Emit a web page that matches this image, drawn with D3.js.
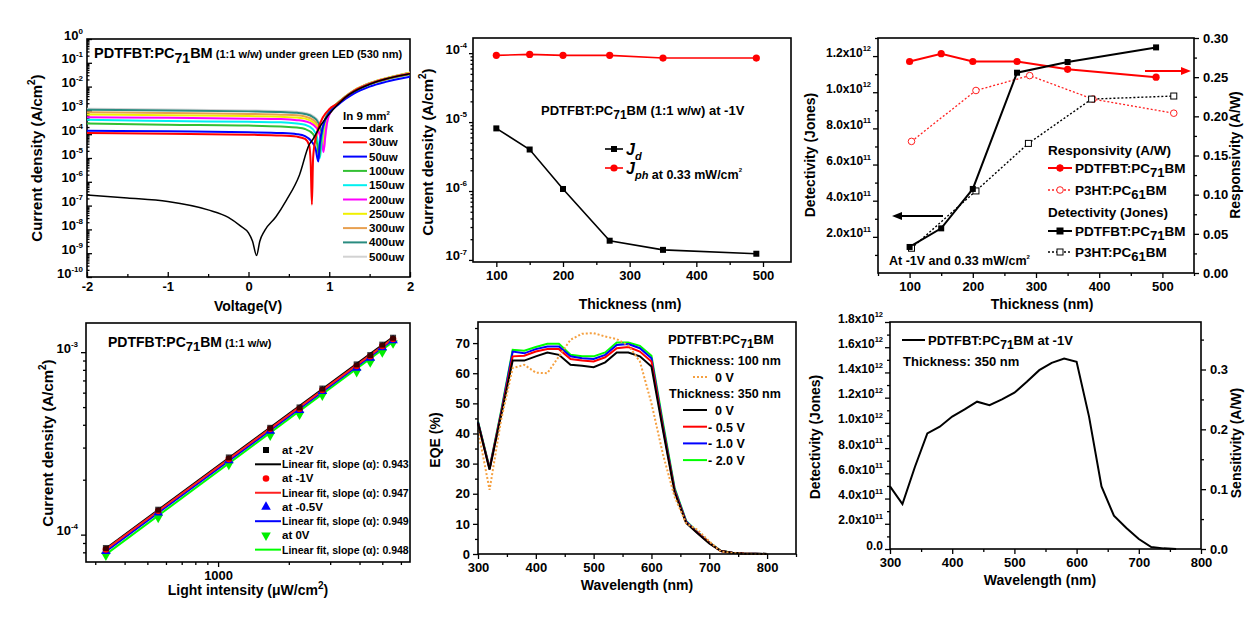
<!DOCTYPE html>
<html><head><meta charset="utf-8">
<script src="https://cdn.jsdelivr.net/npm/d3@7"></script>
<style>
body{margin:0;background:#fff}
svg{display:block;background:#fff}
text{font-family:"Liberation Sans",Arial,sans-serif;font-weight:bold;fill:#000}
</style>
</head><body>
<svg id="c" width="1260" height="618"></svg>
<script>
// ================= DATA =================
// (a) J-V curves, [voltage (V), current density (A/cm2)]
const jvLabels = ["dark","30uw","50uw","100uw","150uw","200uw","250uw","300uw","400uw","500uw"];
const jvDark = [[-2,2.8e-7],[-1.5,2.1e-7],[-1,1.48e-7],[-0.5,6.6e-8],[-0.25,3.2e-8],[-0.1,1.4e-8],[0,7.1e-9],[0.05,3.2e-9],[0.1,8e-10],[0.14,3.2e-9],[0.2,8.9e-9],[0.34,3.4e-8],[0.47,1.7e-7],[0.63,1.9e-6],[0.75,3.55e-5],[0.8,6.3e-5],[0.9,2.5e-4],[1.0,7.1e-4],[1.2,3.55e-3],[1.5,1.26e-2],[2.0,3.5e-2]];
const jv30 = [[-2,1.12e-4],[-1,1.05e-4],[0,9.5e-5],[0.4,8.9e-5],[0.6,7.9e-5],[0.7,6.3e-5],[0.75,3.55e-5],[0.77,6.3e-6],[0.785,1.1e-7],[0.8,1.0e-5],[0.83,6.3e-5],[0.87,2.0e-4],[0.92,5.0e-4],[1.0,1.12e-3],[1.1,1.9e-3],[1.2,3.6e-3],[1.3,6.3e-3],[1.5,1.3e-2],[1.7,2.1e-2],[2.0,3.5e-2]];
const jv50 = [[-2,1.41e-4],[-1,1.32e-4],[0,1.2e-4],[0.4,1.12e-4],[0.6,1.0e-4],[0.7,8.3e-5],[0.78,5.0e-5],[0.83,2.5e-5],[0.865,7.1e-6],[0.88,3.2e-5],[0.92,2.0e-4],[1.0,7.9e-4],[1.1,1.6e-3],[1.2,3.0e-3],[1.3,5.0e-3],[1.5,1.0e-2],[1.7,1.58e-2],[2.0,2.6e-2]];
const jv100 = [[-2,2.8e-4],[-1,2.5e-4],[0,2.3e-4],[0.4,2.1e-4],[0.6,1.9e-4],[0.7,1.66e-4],[0.8,1.0e-4],[0.85,4.0e-5],[0.875,1.0e-5],[0.895,5.0e-5],[0.93,2.5e-4],[1.0,8.9e-4],[1.1,1.9e-3],[1.2,3.55e-3],[1.3,6.0e-3],[1.5,1.26e-2],[1.7,2.0e-2],[2.0,3.3e-2]];
const jv150 = [[-2,4.0e-4],[-1,3.6e-4],[0,3.3e-4],[0.4,3.16e-4],[0.6,2.8e-4],[0.7,2.5e-4],[0.8,1.58e-4],[0.85,7.1e-5],[0.885,1.0e-5],[0.905,5.0e-5],[0.94,3.16e-4],[1.0,8.9e-4],[1.1,1.9e-3],[1.2,3.6e-3],[1.3,6.1e-3],[1.5,1.28e-2],[1.7,2.05e-2],[2.0,3.4e-2]];
const jv200 = [[-2,5.2e-4],[-1,4.9e-4],[0,4.5e-4],[0.4,4.3e-4],[0.6,3.9e-4],[0.7,3.5e-4],[0.8,2.5e-4],[0.87,1.26e-4],[0.91,4.0e-5],[0.93,1.8e-5],[0.95,7.9e-5],[0.98,4.0e-4],[1.03,1.0e-3],[1.1,1.8e-3],[1.2,3.6e-3],[1.3,6.3e-3],[1.5,1.32e-2],[1.7,2.1e-2],[2.0,3.6e-2]];
const jv250 = [[-2,6.8e-4],[-1,6.3e-4],[0,5.75e-4],[0.4,5.4e-4],[0.6,5.0e-4],[0.7,4.5e-4],[0.8,3.16e-4],[0.86,1.78e-4],[0.9,6.3e-5],[0.92,2.5e-5],[0.94,1.0e-4],[0.97,4.0e-4],[1.02,1.0e-3],[1.1,2.0e-3],[1.2,3.8e-3],[1.3,6.6e-3],[1.5,1.38e-2],[1.7,2.2e-2],[2.0,3.8e-2]];
const jv300 = [[-2,8.3e-4],[-1,7.8e-4],[0,7.1e-4],[0.4,6.6e-4],[0.6,6.2e-4],[0.7,5.5e-4],[0.8,4.0e-4],[0.85,2.5e-4],[0.885,1.0e-4],[0.905,3.2e-5],[0.925,1.0e-4],[0.95,4.0e-4],[1.0,1.0e-3],[1.1,2.0e-3],[1.2,3.8e-3],[1.3,6.6e-3],[1.5,1.38e-2],[1.7,2.2e-2],[2.0,3.8e-2]];
const jv400 = [[-2,1.07e-3],[-1,1.0e-3],[0,9.1e-4],[0.4,8.5e-4],[0.6,7.9e-4],[0.7,7.1e-4],[0.8,5.2e-4],[0.86,3.16e-4],[0.9,1.26e-4],[0.92,3.2e-5],[0.94,1.0e-4],[0.97,4.0e-4],[1.02,1.0e-3],[1.1,2.0e-3],[1.2,3.8e-3],[1.3,6.6e-3],[1.5,1.38e-2],[1.7,2.2e-2],[2.0,3.8e-2]];
const jv500 = [[-2,1.17e-3],[-1,1.1e-3],[0,1.0e-3],[0.4,9.3e-4],[0.6,8.7e-4],[0.7,7.8e-4],[0.8,5.75e-4],[0.87,3.16e-4],[0.91,1.26e-4],[0.935,2.5e-5],[0.955,1.0e-4],[0.98,4.0e-4],[1.03,1.0e-3],[1.1,2.0e-3],[1.2,3.8e-3],[1.3,6.6e-3],[1.5,1.38e-2],[1.7,2.2e-2],[2.0,3.9e-2]];
const jvTicksX = [-2,-1,0,1,2];

// (b) current density vs thickness
const thickB = [100,150,200,270,350,490];
const jDark = [8.1e-6,4.0e-6,1.07e-6,1.9e-7,1.4e-7,1.23e-7];
const jPhoto = [9.3e-5,9.6e-5,9.3e-5,9.3e-5,8.5e-5,8.5e-5];

// (c) detectivity / responsivity vs thickness
const thickPDT = [100,150,200,270,350,490];
const respPDT = [0.270,0.280,0.270,0.270,0.260,0.250];
const detPDT = [1.44e11,2.47e11,4.65e11,1.108e12,1.167e12,1.248e12];
const thickP3HTresp = [103,205,290,390,518];
const respP3HT = [0.168,0.233,0.252,0.222,0.204];
const thickP3HTdet = [103,205,288,388,518];
const detP3HT = [1.37e11,4.54e11,7.17e11,9.62e11,9.79e11];

// (d) J vs light intensity
const intensity = [333,556,1111,1667,2222,2778,3889,4444,5000,5556];
const jm2V = [8.45e-5,1.37e-4,2.65e-4,3.85e-4,4.98e-4,6.32e-4,8.57e-4,9.64e-4,1.10e-3,1.20e-3];
const jm1V = [8.3e-5,1.35e-4,2.6e-4,3.8e-4,4.9e-4,6.2e-4,8.4e-4,9.5e-4,1.08e-3,1.18e-3];
const jm05V = [8.1e-5,1.32e-4,2.55e-4,3.7e-4,4.8e-4,6.1e-4,8.2e-4,9.3e-4,1.06e-3,1.16e-3];
const j0V = [7.7e-5,1.24e-4,2.42e-4,3.5e-4,4.55e-4,5.8e-4,7.8e-4,8.8e-4,1.0e-3,1.12e-3];
const fitX = [333,5556];
const fitm2V = [8.4e-5,1.21e-3];
const fitm1V = [8.3e-5,1.19e-3];
const fitm05V = [8.1e-5,1.17e-3];
const fit0V = [7.8e-5,1.14e-3];
const fitSlopes = ["0.943","0.947","0.949","0.948"];

// (e) EQE spectra
const wlE = [300,320,340,360,380,400,420,440,460,480,500,520,540,560,580,600,620,640,660,680,700,720,740,760,780,800];
const eqe100_0V = [41.2,21.3,44.5,61.7,62.8,60.2,60.0,65.6,71.1,73.1,73.3,72.2,71.3,69.2,63.9,50,33,19,10.2,8.0,4.2,0.8,0.3,0.1,0,0];
const eqe350_0V = [43.5,28,46,64.2,64.2,65.6,66.9,66.1,62.8,62.5,62.0,63.6,66.9,66.9,65.6,62.2,41,20.5,10.3,6.8,3.5,1.0,0.4,0.2,0.1,0];
const eqe350_05V = [43.5,28.2,46.5,65.6,65.8,67.2,68.0,68.0,64.7,64.2,63.9,65.3,68.3,68.7,67.2,63.9,41.8,21,10.5,7,3.7,1.0,0.4,0.2,0.1,0];
const eqe350_1V = [43.8,28.4,47,67.2,66.6,68.0,68.9,68.9,65.6,65.0,64.7,66.1,69.4,69.7,68.3,65.0,42.5,21.5,10.8,7.1,3.8,1.0,0.4,0.2,0.1,0];
const eqe350_2V = [44,28.6,47.5,67.8,67.5,68.7,69.8,69.8,66.1,65.6,65.6,66.9,70.2,70.2,69.1,65.8,43.5,22,11,7.2,3.9,1.1,0.4,0.2,0.1,0];

// (f) detectivity spectrum
const wlF = [300,320,340,360,380,400,420,440,460,480,500,520,540,560,580,600,620,640,660,680,700,720,740,760];
const detF = [4.96e11,3.56e11,6.5e11,9.17e11,9.7e11,1.05e12,1.107e12,1.168e12,1.141e12,1.186e12,1.239e12,1.326e12,1.418e12,1.476e12,1.51e12,1.484e12,1.05e12,4.96e11,2.64e11,1.66e11,7.9e10,1.6e10,5e9,0];

// ================= HELPERS =================
const svg = d3.select('#c');
function addParts(t, parts, size){
  let cur = 0;
  parts.forEach(p=>{
    if (typeof p === 'string') p = [p,'n'];
    const s = p[0], m = p[1]||'n', fs = p[2], st = p[3];
    const sh = m==='sub' ? size*0.32 : m==='sup' ? -size*0.45 : 0;
    const ts = t.append('tspan').text(s).attr('dy', sh-cur);
    cur = sh;
    if (m!=='n') ts.attr('font-size', fs||Math.round(size*0.66));
    else if (fs) ts.attr('font-size', fs);
    if (st) ts.attr('font-style', st);
  });
}
function rich(parent,x,y,parts,size,anchor,rot){
  const t = parent.append('text').attr('x',x).attr('y',y).attr('font-size',size).attr('text-anchor',anchor||'start');
  if (rot) t.attr('transform',`rotate(${rot},${x},${y})`);
  addParts(t, parts, size);
  return t;
}
function frame(g,x0,y0,x1,y1){
  g.append('rect').attr('x',x0).attr('y',y0).attr('width',x1-x0).attr('height',y1-y0)
   .attr('fill','none').attr('stroke','#000').attr('stroke-width',1.6);
}
function axis(g,scale,side,pos,vals,len,opt={}){
  const gen = {b:d3.axisBottom,l:d3.axisLeft,r:d3.axisRight}[side](scale)
     .tickValues(vals).tickSizeInner(len).tickSizeOuter(0).tickPadding(opt.pad??3)
     .tickFormat(opt.fmt || (()=>''));
  const gg = g.append('g').attr('transform', side==='b'?`translate(0,${pos})`:`translate(${pos},0)`).call(gen);
  gg.attr('font-size',opt.fs||13).attr('font-family',null);
  gg.select('.domain').remove();
  gg.selectAll('.tick line').attr('stroke','#000').attr('stroke-width',1.3);
  if (opt.rich) gg.selectAll('.tick text').each(function(d){
    const t = d3.select(this); t.text(null); addParts(t, opt.rich(d), opt.fs||13);
  });
  return gg;
}
function logMinors(lo,hi){ const r=[]; for(let e=lo;e<hi;e++) for(let k=2;k<=9;k++) r.push(k*Math.pow(10,e)); return r; }
function clip(id,x0,y0,x1,y1){
  svg.append('clipPath').attr('id',id).append('rect').attr('x',x0).attr('y',y0).attr('width',x1-x0).attr('height',y1-y0);
  return svg.append('g').attr('clip-path',`url(#${id})`);
}
const pcParts = (size)=>[['PDTFBT:PC'],['71','sub',Math.round(size*0.95)],['BM']];
const logLab = d=>[['10'],[String(Math.round(Math.log10(d))),'sup',8]];

// ================= PANEL (a) =================
{
  const X0=87,X1=410,Y0=39,Y1=277;
  const x = d3.scaleLinear().domain([-2,2]).range([X0,X1]);
  const y = d3.scaleLog().domain([1e-10,1]).range([Y1,Y0]);
  const g = svg.append('g');
  const cg = clip('ca',X0,Y0,X1,Y1);
  const line = d3.line().x(d=>x(d[0])).y(d=>y(d[1])).curve(d3.curveMonotoneX);
  const colors = ["#000000","#ff0000","#0000ff","#33c033","#00f0f0","#ff00ff","#f0f000","#e8a050","#2a8c80","#d2d2d2"];
  const series = [jvDark,jv30,jv50,jv100,jv150,jv200,jv250,jv300,jv400,jv500];
  for (let i=series.length-1;i>=1;i--){
    cg.append('path').attr('d',line(series[i])).attr('fill','none').attr('stroke',colors[i]).attr('stroke-width',2);
  }
  cg.append('path').attr('d',line(jvDark)).attr('fill','none').attr('stroke','#000').attr('stroke-width',1.5);
  frame(g,X0,Y0,X1,Y1);
  axis(g,x,'b',Y1,jvTicksX,-5,{fmt:d=>String(d),pad:5});
  axis(g,x,'b',Y1,[-1.5,-0.5,0.5,1.5],-3);
  const majY=[]; for(let e=-10;e<=0;e++) majY.push(Math.pow(10,e));
  axis(g,y,'l',X0,majY,-5,{rich:logLab,pad:4});
  axis(g,y,'l',X0,logMinors(-10,0),-2.5);
  rich(g,42,158,[['Current density (A/cm'],['2','sup',10],[')']],15,'middle',-90);
  rich(g,248,311,['Voltage(V)'],14,'middle');
  const tt = rich(g,94,58,pcParts(14.5),14.5);
  addParts(tt,[[' (1:1 w/w) under green LED (530 nm)','n',11]],14.5);
  // legend
  rich(g,343,120,[['In 9 mm'],['2','sup',6]],11.5);
  jvLabels.forEach((lab,i)=>{
    const yy = 128 + i*14.3;
    g.append('line').attr('x1',343).attr('x2',367).attr('y1',yy).attr('y2',yy).attr('stroke',colors[i]).attr('stroke-width',2);
    rich(g,369,yy+4,[lab],11.5);
  });
}

// ================= PANEL (b) =================
{
  const X0=473,X1=791,Y0=38,Y1=262;
  const x = d3.scaleLinear().domain([65,542]).range([X0,X1]);
  const y = d3.scaleLog().domain([Math.pow(10,-7.03),Math.pow(10,-3.78)]).range([Y1,Y0]);
  const g = svg.append('g');
  frame(g,X0,Y0,X1,Y1);
  axis(g,x,'b',Y1,[100,200,300,400,500],5,{fmt:d=>String(d),pad:4});
  axis(g,x,'b',Y1,[150,250,350,450],3);
  axis(g,y,'l',X0,[1e-7,1e-6,1e-5,1e-4],4,{rich:logLab,pad:2});
  axis(g,y,'l',X0,logMinors(-7,-3).filter(v=>y.domain()[0]<=v&&v<=y.domain()[1]),2.5);
  const line = d3.line().x(d=>x(d[0])).y(d=>y(d[1]));
  const dk = thickB.map((t,i)=>[t,jDark[i]]), ph = thickB.map((t,i)=>[t,jPhoto[i]]);
  g.append('path').attr('d',line(dk)).attr('fill','none').attr('stroke','#000').attr('stroke-width',1.6);
  g.selectAll(null).data(dk).join('rect').attr('x',d=>x(d[0])-3).attr('y',d=>y(d[1])-3).attr('width',6).attr('height',6).attr('fill','#000');
  g.append('path').attr('d',line(ph)).attr('fill','none').attr('stroke','#ff0000').attr('stroke-width',1.6);
  g.selectAll(null).data(ph).join('circle').attr('cx',d=>x(d[0])).attr('cy',d=>y(d[1])).attr('r',3.6).attr('fill','#ff0000');
  rich(g,433,152,[['Current density (A/cm'],['2','sup',10],[')']],15,'middle',-90);
  rich(g,630,309,['Thickness (nm)'],14,'middle');
  const t = rich(g,541,115,pcParts(13),13);
  addParts(t,[[' (1:1 w/w) at -1V']],13);
  g.append('line').attr('x1',605).attr('x2',623).attr('y1',149).attr('y2',149).attr('stroke','#000').attr('stroke-width',1.6);
  g.append('rect').attr('x',611).attr('y',146).attr('width',6).attr('height',6).attr('fill','#000');
  rich(g,626,155,[['J','n',16,'italic'],['d','sub',11,'italic']],16);
  g.append('line').attr('x1',605).attr('x2',623).attr('y1',168).attr('y2',168).attr('stroke','#ff0000').attr('stroke-width',1.6);
  g.append('circle').attr('cx',614).attr('cy',168).attr('r',3.6).attr('fill','#ff0000');
  const t2 = rich(g,626,174,[['J','n',16,'italic'],['ph','sub',11,'italic']],16);
  addParts(t2,[[' at 0.33 mW/cm','n',12.5],['2','sup',6]],16);
}

// ================= PANEL (c) =================
{
  const X0=878,X1=1194,Y0=38,Y1=273;
  const x = d3.scaleLinear().domain([50,550]).range([X0,X1]);
  const yL = d3.scaleLinear().domain([0,1.3e12]).range([Y1,Y0]);
  const yR = d3.scaleLinear().domain([0,0.30]).range([Y1,Y0]);
  const g = svg.append('g');
  const line = (ys)=>d3.line().x(d=>x(d[0])).y(d=>ys(d[1]));
  const rp = thickPDT.map((t,i)=>[t,respPDT[i]]);
  const r3 = thickP3HTresp.map((t,i)=>[t,respP3HT[i]]);
  const dp = thickPDT.map((t,i)=>[t,detPDT[i]]);
  const d3h = thickP3HTdet.map((t,i)=>[t,detP3HT[i]]);
  g.append('path').attr('d',line(yR)(r3)).attr('fill','none').attr('stroke','#ff2020').attr('stroke-width',1.3).attr('stroke-dasharray','2,2');
  g.append('path').attr('d',line(yL)(d3h)).attr('fill','none').attr('stroke','#000').attr('stroke-width',1.4).attr('stroke-dasharray','2,2');
  g.append('path').attr('d',line(yR)(rp)).attr('fill','none').attr('stroke','#ff0000').attr('stroke-width',2);
  g.append('path').attr('d',line(yL)(dp)).attr('fill','none').attr('stroke','#000').attr('stroke-width',2);
  g.selectAll(null).data(r3).join('circle').attr('cx',d=>x(d[0])).attr('cy',d=>yR(d[1])).attr('r',3.3).attr('fill','#fff').attr('stroke','#ff2020').attr('stroke-width',1);
  g.selectAll(null).data(d3h).join('rect').attr('x',d=>x(d[0])-3).attr('y',d=>yL(d[1])-3).attr('width',6).attr('height',6).attr('fill','#fff').attr('stroke','#000').attr('stroke-width',1);
  g.selectAll(null).data(rp).join('circle').attr('cx',d=>x(d[0])).attr('cy',d=>yR(d[1])).attr('r',3.6).attr('fill','#ff0000');
  g.selectAll(null).data(dp).join('rect').attr('x',d=>x(d[0])-3).attr('y',d=>yL(d[1])-3).attr('width',6).attr('height',6).attr('fill','#000');
  frame(g,X0,Y0,X1,Y1);
  axis(g,x,'b',Y1,[100,200,300,400,500],5,{fmt:d=>String(d),pad:4});
  axis(g,x,'b',Y1,[50,150,250,350,450,550],3);
  axis(g,yL,'l',X0,[2e11,4e11,6e11,8e11,1e12,1.2e12],5,{fs:12,pad:2,rich:d=>{const e=d>=1e12?12:11;return [[(d/Math.pow(10,e)).toFixed(1)+'x10'],[String(e),'sup',7.5]];}});
  axis(g,yL,'l',X0,[1e11,3e11,5e11,7e11,9e11,1.1e12,1.3e12],3);
  axis(g,yR,'r',X1,[0,0.05,0.10,0.15,0.20,0.25,0.30],5,{fmt:d3.format('.2f'),pad:4,fs:13});
  axis(g,yR,'r',X1,[0.025,0.075,0.125,0.175,0.225,0.275],3);
  rich(g,815,155,['Detectivity (Jones)'],14,'middle',-90);
  rich(g,1240,155,['Responsivity (A/W)'],14,'middle',-90);
  rich(g,1042,309,['Thickness (nm)'],14,'middle');
  // arrows
  g.append('line').attr('x1',943).attr('x2',898).attr('y1',216).attr('y2',216).attr('stroke','#000').attr('stroke-width',1.8);
  g.append('path').attr('d','M892,216 L902,212 L902,220 Z').attr('fill','#000');
  g.append('line').attr('x1',1145).attr('x2',1184).attr('y1',71).attr('y2',71).attr('stroke','#ff0000').attr('stroke-width',1.8);
  g.append('path').attr('d','M1191,71 L1181,67 L1181,75 Z').attr('fill','#ff0000');
  const a = rich(g,889,265,['At -1V and 0.33 mW/cm'],12.5);
  addParts(a,[['2','sup',6]],12.5);
  // legend
  rich(g,1048,155,['Responsivity (A/W)'],13.5);
  rich(g,1048,217,['Detectivity (Jones)'],13.5);
  const rows=[{y:168,c:'#ff0000',dash:null,m:'c',fill:'#ff0000',lab:'PDT'},{y:190,c:'#ff2020',dash:'2,2',m:'c',fill:'#fff',lab:'P3HT'},
              {y:231,c:'#000',dash:null,m:'s',fill:'#000',lab:'PDT'},{y:252,c:'#000',dash:'2,2',m:'s',fill:'#fff',lab:'P3HT'}];
  rows.forEach(r=>{
    const l=g.append('line').attr('x1',1048).attr('x2',1072).attr('y1',r.y).attr('y2',r.y).attr('stroke',r.c).attr('stroke-width',r.dash?1.3:2);
    if(r.dash) l.attr('stroke-dasharray',r.dash);
    if(r.m==='c') g.append('circle').attr('cx',1060).attr('cy',r.y).attr('r',3.3).attr('fill',r.fill).attr('stroke',r.c).attr('stroke-width',1);
    else g.append('rect').attr('x',1057).attr('y',r.y-3).attr('width',6).attr('height',6).attr('fill',r.fill).attr('stroke',r.c).attr('stroke-width',1);
    const parts = r.lab==='PDT' ? pcParts(13.5) : [['P3HT:PC'],['61','sub',13],['BM']];
    rich(g,1075,r.y+5,parts,13.5);
  });
}

// ================= PANEL (d) =================
{
  const X0=86,X1=410,Y0=323,Y1=562;
  const x = d3.scaleLog().domain([274,6560]).range([X0,X1]);
  const y = d3.scaleLog().domain([7.08e-5,1.445e-3]).range([Y1,Y0]);
  const g = svg.append('g');
  const fits = [fit0V,fitm05V,fitm2V,fitm1V];
  const fitCols = ['#00ff00','#0000ff','#000000','#ff2020'];
  const line = d3.line().x(d=>x(d[0])).y(d=>y(d[1]));
  fits.forEach((f,i)=>{
    g.append('path').attr('d',line(fitX.map((t,j)=>[t,f[j]]))).attr('fill','none').attr('stroke',fitCols[i]).attr('stroke-width',2);
  });
  const pts = (arr)=>intensity.map((t,i)=>[t,arr[i]]);
  const sym = (type,size)=>d3.symbol().type(type).size(size)();
  g.selectAll(null).data(pts(j0V)).join('path').attr('d',sym(d3.symbolTriangle,40)).attr('transform',d=>`translate(${x(d[0])},${y(d[1])}) rotate(180)`).attr('fill','#00ee00');
  g.selectAll(null).data(pts(jm05V)).join('path').attr('d',sym(d3.symbolTriangle,40)).attr('transform',d=>`translate(${x(d[0])},${y(d[1])})`).attr('fill','#0000ff');
  g.selectAll(null).data(pts(jm1V)).join('circle').attr('cx',d=>x(d[0])).attr('cy',d=>y(d[1])).attr('r',3.3).attr('fill','#ff0000');
  g.selectAll(null).data(pts(jm2V)).join('rect').attr('x',d=>x(d[0])-3).attr('y',d=>y(d[1])-3).attr('width',6).attr('height',6).attr('fill','#000').attr('opacity',0.75);
  frame(g,X0,Y0,X1,Y1);
  axis(g,x,'b',Y1,[1000],5,{fmt:d=>String(d),pad:4});
  axis(g,x,'b',Y1,[300,400,500,600,700,800,900,2000,3000,4000,5000,6000],3);
  axis(g,y,'l',X0,[1e-4,1e-3],5,{rich:logLab,pad:3});
  axis(g,y,'l',X0,[8e-5,9e-5,2e-4,3e-4,4e-4,5e-4,6e-4,7e-4,8e-4,9e-4],3);
  rich(g,53,443,[['Current density (A/cm'],['2','sup',10],[')']],15,'middle',-90);
  rich(g,248,595,[['Light intensity ('],['\u03bc','n',14],['W/cm'],['2','sup',10],[')']],14,'middle');
  const t = rich(g,108,347,pcParts(14),14);
  addParts(t,[[' (1:1 w/w)','n',11]],14);
  const legLab = ['at -2V','at -1V','at -0.5V','at 0V'];
  const mk = ['s','c','t','v'], mc=['#000','#ff0000','#0000ff','#00ee00'], lc=['#000','#ff2020','#0000ff','#00ff00'];
  for(let i=0;i<4;i++){
    const ym = 450 + i*28.45, yl = ym + 14.3;
    if(mk[i]==='s') g.append('rect').attr('x',263).attr('y',ym-3).attr('width',6).attr('height',6).attr('fill',mc[i]);
    else if(mk[i]==='c') g.append('circle').attr('cx',266).attr('cy',ym).attr('r',3.3).attr('fill',mc[i]);
    else g.append('path').attr('d',sym(d3.symbolTriangle,40)).attr('transform',`translate(266,${ym}) rotate(${mk[i]==='v'?180:0})`).attr('fill',mc[i]);
    rich(g,282,ym+4,[legLab[i]],11.5);
    g.append('line').attr('x1',255).attr('x2',281).attr('y1',yl).attr('y2',yl).attr('stroke',lc[i]).attr('stroke-width',2);
    rich(g,282,yl+4,[['Linear fit, slope ('],['\u03b1','n',10.5],['): '+fitSlopes[i]]],10.5);
  }
}

// ================= PANEL (e) =================
{
  const X0=478,X1=796,Y0=322,Y1=554;
  const x = d3.scaleLinear().domain([300,850]).range([X0,X1]);
  const y = d3.scaleLinear().domain([0,77]).range([Y1,Y0]);
  const g = svg.append('g');
  const line = d3.line().x(d=>x(d[0])).y(d=>y(d[1]));
  const pts = arr=>wlE.map((w,i)=>[w,arr[i]]);
  const sets = [[eqe350_2V,'#00ff00'],[eqe350_1V,'#0000ff'],[eqe350_05V,'#ff0000'],[eqe350_0V,'#000000']];
  sets.forEach(s=>g.append('path').attr('d',line(pts(s[0]))).attr('fill','none').attr('stroke',s[1]).attr('stroke-width',2));
  g.append('path').attr('d',line(pts(eqe100_0V))).attr('fill','none').attr('stroke','#f5a040').attr('stroke-width',2).attr('stroke-dasharray','2,2');
  frame(g,X0,Y0,X1,Y1);
  axis(g,x,'b',Y1,[300,400,500,600,700,800],5,{fmt:d=>String(d),pad:4});
  axis(g,x,'b',Y1,[350,450,550,650,750,850],3);
  axis(g,y,'l',X0,[0,10,20,30,40,50,60,70],5,{fmt:d=>String(d),pad:3});
  axis(g,y,'l',X0,[5,15,25,35,45,55,65,75],3);
  rich(g,440,440,['EQE (%)'],14,'middle',-90);
  rich(g,637,590,['Wavelength (nm)'],14,'middle');
  rich(g,668,344,pcParts(13),13);
  rich(g,669,365,['Thickness: 100 nm'],12.5);
  g.append('line').attr('x1',693).attr('x2',709).attr('y1',377).attr('y2',377).attr('stroke','#f5a040').attr('stroke-width',2).attr('stroke-dasharray','2,2');
  rich(g,715,382,['0 V'],12.5);
  rich(g,669,398,['Thickness: 350 nm'],12.5);
  const labs=['0 V','- 0.5 V','- 1.0 V','- 2.0 V'], cols=['#000','#ff0000','#0000ff','#00ff00'];
  labs.forEach((l,i)=>{
    const yy=410+i*16.7;
    g.append('line').attr('x1',683).attr('x2',707).attr('y1',yy).attr('y2',yy).attr('stroke',cols[i]).attr('stroke-width',2);
    rich(g,i===0?715:708,yy+5,[l],12.5);
  });
}

// ================= PANEL (f) =================
{
  const X0=890,X1=1201,Y0=322,Y1=549;
  const x = d3.scaleLinear().domain([300,800]).range([X0,X1]);
  const yL = d3.scaleLinear().domain([0,1.8e12]).range([Y1,Y0]);
  const yR = d3.scaleLinear().domain([0,0.3794]).range([Y1,Y0]);
  const g = svg.append('g');
  const line = d3.line().x(d=>x(d[0])).y(d=>yL(d[1]));
  g.append('path').attr('d',line(wlF.map((w,i)=>[w,detF[i]]))).attr('fill','none').attr('stroke','#000').attr('stroke-width',2);
  frame(g,X0,Y0,X1,Y1);
  axis(g,x,'b',Y1,[300,400,500,600,700,800],5,{fmt:d=>String(d),pad:4});
  axis(g,x,'b',Y1,[350,450,550,650,750],3);
  const majL=[0,2e11,4e11,6e11,8e11,1e12,1.2e12,1.4e12,1.6e12,1.8e12];
  axis(g,yL,'l',X0,majL,5,{fs:12,pad:2,rich:d=>{ if(d===0) return [['0.0']]; const e=d>=1e12?12:11; return [[(d/Math.pow(10,e)).toFixed(1)+'x10'],[String(e),'sup',7.5]];}});
  axis(g,yL,'l',X0,[1e11,3e11,5e11,7e11,9e11,1.1e12,1.3e12,1.5e12,1.7e12],3);
  axis(g,yR,'r',X1,[0,0.1,0.2,0.3],5,{fmt:d3.format('.1f'),pad:4});
  axis(g,yR,'r',X1,[0.05,0.15,0.25,0.35],3);
  rich(g,820,437,['Detectivity (Jones)'],14,'middle',-90);
  rich(g,1241,443,['Sensitivity (A/W)'],14,'middle',-90);
  rich(g,1040,585,['Wavelength (nm)'],14,'middle');
  g.append('line').attr('x1',902).attr('x2',925).attr('y1',340).attr('y2',340).attr('stroke','#000').attr('stroke-width',2);
  const t = rich(g,928,345,pcParts(13),13);
  addParts(t,[[' at -1V']],13);
  rich(g,903,366,['Thickness: 350 nm'],13);
}
</script>
</body></html>
